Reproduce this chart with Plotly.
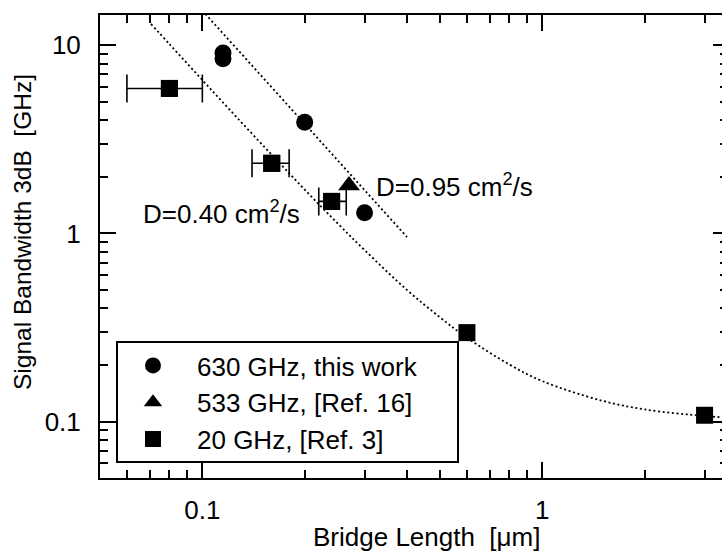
import numpy as np
import plotly.graph_objects as go

# ---------------- data ----------------
circ_x = [0.115, 0.115, 0.2, 0.3]          # 630 GHz, this work
circ_y = [9.1, 8.5, 3.9, 1.29]

tri_x = [0.27]                               # 533 GHz, [Ref. 16]
tri_y = [1.8]

sq_x = [0.08, 0.16, 0.24, 0.6, 3.0]          # 20 GHz, [Ref. 3]
sq_y = [5.9, 2.36, 1.48, 0.297, 0.108]
# horizontal error bars: only the first three squares carry them
sq_err_plus = [0.02, 0.02, 0.025]
sq_err_minus = [0.02, 0.02, 0.02]

fit095_x = [0.1, 0.4]                        # D=0.95 cm2/s
fit095_y = [15.3, 0.956]

fit040_x = [0.0706, 0.08, 0.1, 0.125, 0.16, 0.2, 0.25, 0.3, 0.4, 0.5, 0.6,
            0.8, 1.0, 1.5, 2.0, 3.0, 3.5]    # D=0.40 cm2/s
fit040_y = [13.0, 10.16, 6.54, 4.22, 2.62, 1.71, 1.13, 0.816, 0.50, 0.358,
            0.279, 0.201, 0.164, 0.129, 0.116, 0.107, 0.105]

x_major = [0.1, 1]
x_major_text = ["0.1", "1"]
x_minor = [0.06, 0.07, 0.08, 0.09, 0.2, 0.3, 0.4, 0.5, 0.6, 0.7, 0.8, 0.9, 2, 3]
y_major = [0.1, 1, 10]
y_major_text = ["0.1", "1", "10"]
y_minor = [0.06, 0.07, 0.08, 0.09, 0.2, 0.3, 0.4, 0.5, 0.6, 0.7, 0.8, 0.9,
           2, 3, 4, 5, 6, 7, 8, 9]

X_RANGE = [np.log10(0.05), np.log10(3.376)]
Y_RANGE = [np.log10(0.0501), np.log10(14.5)]

FONT = "Liberation Sans, Arial, Helvetica, sans-serif"
W, H = 722, 555
ML, MR, MT, MB = 100, 0, 15, 77
PW, PH = W - ML - MR, H - MT - MB


def px(xp):
    return (xp - ML) / PW


def py(yp):
    return (H - MB - yp) / PH


dot = "2px,2.6px"
n_err = len(sq_err_plus)

fig = go.Figure()

fig.add_trace(go.Scatter(x=fit095_x, y=fit095_y, mode="lines", yaxis="y2",
                         line=dict(color="black", width=1.8, dash=dot),
                         showlegend=False, hoverinfo="skip"))
fig.add_trace(go.Scatter(x=fit040_x, y=fit040_y, mode="lines",
                         line=dict(color="black", width=1.8, dash=dot, shape="spline"),
                         showlegend=False, hoverinfo="skip"))

fig.add_trace(go.Scatter(x=circ_x, y=circ_y, mode="markers", name="630 GHz, this work",
                         marker=dict(symbol="circle", size=17, color="black")))
fig.add_trace(go.Scatter(x=tri_x, y=tri_y, mode="markers", name="533 GHz, [Ref. 16]",
                         marker=dict(symbol="triangle-up", size=19, color="black")))
# error bars of the squares that have them (markers drawn by the next trace)
fig.add_trace(go.Scatter(x=sq_x[:n_err], y=sq_y[:n_err], mode="markers",
                         legendgroup="sq", showlegend=False, hoverinfo="skip",
                         marker=dict(symbol="square", size=17, color="black"),
                         error_x=dict(type="data", symmetric=False, array=sq_err_plus,
                                      arrayminus=sq_err_minus, color="black",
                                      thickness=1.6, width=14)))
fig.add_trace(go.Scatter(x=sq_x, y=sq_y, mode="markers", name="20 GHz, [Ref. 3]",
                         legendgroup="sq",
                         marker=dict(symbol="square", size=17, color="black")))

axis_common = dict(type="log", showgrid=False, zeroline=False, color="black",
                   tickfont=dict(family=FONT, size=26, color="black"))

fig.update_layout(
    width=W, height=H,
    margin=dict(l=ML, r=MR, t=MT, b=MB, autoexpand=False),
    paper_bgcolor="white", plot_bgcolor="white",
    font=dict(family=FONT, size=26, color="black"),
    xaxis=dict(**axis_common, range=X_RANGE, tickmode="array", tickvals=x_major,
               ticktext=x_major_text, ticks="inside", ticklen=16, tickwidth=1.6,
               showline=True, linewidth=2, linecolor="black", mirror="ticks",
               ticklabelstandoff=8,
               minor=dict(tickmode="array", tickvals=x_minor, ticks="inside",
                          ticklen=8, tickwidth=1.6, showgrid=False)),
    yaxis=dict(**axis_common, range=Y_RANGE, tickmode="array", tickvals=y_major,
               ticktext=y_major_text, ticks="inside", ticklen=16, tickwidth=1.6,
               showline=True, linewidth=2, linecolor="black", mirror=False,
               ticklabelstandoff=12,
               minor=dict(tickmode="array", tickvals=y_minor, ticks="inside",
                          ticklen=8, tickwidth=1.6, showgrid=False)),
    yaxis2=dict(type="log", overlaying="y", side="right", anchor="x", range=Y_RANGE,
                showgrid=False, zeroline=False, showline=False, showticklabels=False,
                tickmode="array", tickvals=y_major, ticks="inside", ticklen=9,
                tickwidth=1.6, tickcolor="black",
                minor=dict(tickmode="array", tickvals=y_minor, ticks="inside",
                           ticklen=2.5, tickwidth=2, tickcolor="black", showgrid=False)),
    showlegend=True,
    legend=dict(x=px(109), y=py(342), xanchor="left", yanchor="top",
                bgcolor="rgba(0,0,0,0)", borderwidth=0, itemwidth=78,
                tracegroupgap=0,
                font=dict(family=FONT, size=26, color="black"), traceorder="normal"),
    shapes=[dict(type="rect", xref="paper", yref="paper",
                 x0=px(117), x1=px(458), y0=py(462), y1=py(342),
                 line=dict(color="black", width=2), fillcolor="white", layer="above")],
    annotations=[
        dict(text="D=0.40 cm<sup>2</sup>/s", xref="paper", yref="paper",
             x=px(141), y=py(213), xanchor="left", yanchor="middle", showarrow=False,
             font=dict(family=FONT, size=26, color="black")),
        dict(text="D=0.95 cm<sup>2</sup>/s", xref="paper", yref="paper",
             x=px(374), y=py(186), xanchor="left", yanchor="middle", showarrow=False,
             font=dict(family=FONT, size=26, color="black")),
        dict(text="Bridge Length\u00a0\u00a0[\u03bcm]", xref="paper", yref="paper",
             x=px(426), y=py(537), xanchor="center", yanchor="middle", showarrow=False,
             font=dict(family=FONT, size=26, color="black")),
        dict(text="Signal Bandwidth 3dB\u00a0\u00a0[GHz]", xref="paper", yref="paper",
             x=px(22), y=py(232), xanchor="center", yanchor="middle", showarrow=False,
             textangle=-90, font=dict(family=FONT, size=24.5, color="black")),
    ],
)

fig.write_html("out.html",
               config={"displayModeBar": False},
               post_script="document.body.style.margin='0';"
                           "document.body.style.padding='0';"
                           "document.body.style.overflow='hidden';")
